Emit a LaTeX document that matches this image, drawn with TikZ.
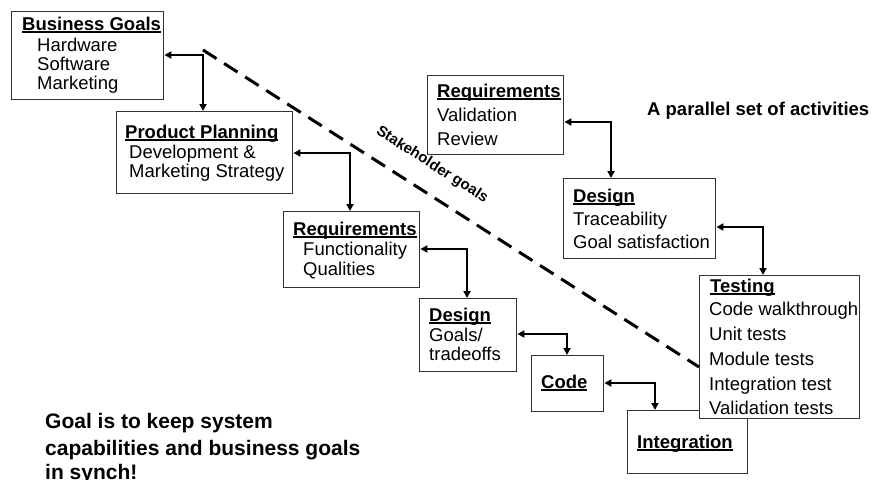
\documentclass[tikz,border=0pt]{standalone}
\usepackage{fontspec}
\setmainfont{Liberation Sans}
\usetikzlibrary{arrows.meta}
\newcommand\boxfont{\fontsize{18.5}{22}\selectfont}
\newcommand\bigfont{\fontsize{21}{26}\selectfont\bfseries}
\newcommand\ttlu[1]{\setbox0\hbox{\bfseries #1}\rlap{\rule[-3.2pt]{\wd0}{1.8pt}}\box0}
\tikzset{
  stagebox/.style={draw=black!80, line width=1.4pt, fill=white, inner sep=0pt, anchor=north west},
  txt/.style={anchor=base west, inner sep=0pt, font=\boxfont},
  note/.style={anchor=base west, inner sep=0pt, font=\bigfont},
  link/.style={line width=1.8pt, {Triangle[length=7pt,width=7pt]}-{Triangle[length=7pt,width=7pt]}},
  goalline/.style={line width=3pt, dash pattern=on 16pt off 9pt}
}
\begin{document}
\begin{tikzpicture}[x=1pt,y=-1pt]
\useasboundingbox (0,0) rectangle (872,479);
% boxes
\node[stagebox, minimum width=152pt, minimum height=88pt] (bg) at (11,11) {};
\node[stagebox, minimum width=176pt, minimum height=82pt] (pp) at (116,111) {};
\node[stagebox, minimum width=136pt, minimum height=76pt] (rq) at (283,211) {};
\node[stagebox, minimum width=97pt, minimum height=73pt] (ds) at (419,298) {};
\node[stagebox, minimum width=72pt, minimum height=56pt] (cd) at (531,355) {};
\node[stagebox, minimum width=120pt, minimum height=63pt] (ig) at (627,410) {};
\node[stagebox, minimum width=136pt, minimum height=79pt] (rq2) at (427,75) {};
\node[stagebox, minimum width=152pt, minimum height=80pt] (ds2) at (563,178) {};
\node[stagebox, minimum width=160pt, minimum height=143pt] (ts) at (699,275) {};
% texts
\node[txt] (bgt) at (22,30) {\ttlu{Business Goals}};
\node[txt] (bg1) at (37,51) {Hardware};
\node[txt] (bg2) at (37,70) {Software};
\node[txt] (bg3) at (37,89) {Marketing};
\node[txt] (ppt) at (125,138) {\ttlu{Product Planning}};
\node[txt] (pp1) at (129,158) {Development \&};
\node[txt] (pp2) at (129,177) {Marketing Strategy};
\node[txt] (rqt) at (293,235) {\ttlu{Requirements}};
\node[txt] (rq1) at (303,255) {Functionality};
\node[txt] (rq2t) at (303,275) {Qualities};
\node[txt] (dst) at (429,321) {\ttlu{Design}};
\node[txt] (ds1) at (429,341) {Goals/};
\node[txt] (ds2t) at (429,360) {tradeoffs};
\node[txt] (cdt) at (541,388) {\ttlu{Code}};
\node[txt] (igt) at (637,448) {\ttlu{Integration}};
\node[txt] (rqbt) at (437,97) {\ttlu{Requirements}};
\node[txt] (rqb1) at (437,121) {Validation};
\node[txt] (rqb2) at (437,145) {Review};
\node[txt] (dsbt) at (573,202) {\ttlu{Design}};
\node[txt] (dsb1) at (573,225) {Traceability};
\node[txt] (dsb2) at (573,248) {Goal satisfaction};
\node[txt] (tst) at (710,292) {\ttlu{Testing}};
\node[txt] (ts1) at (709,315) {Code walkthrough};
\node[txt] (ts2) at (709,340) {Unit tests};
\node[txt] (ts3) at (709,365) {Module tests};
\node[txt] (ts4) at (709,390) {Integration test};
\node[txt] (ts5) at (709,414) {Validation tests};
\node[txt, font=\boxfont\bfseries] (par) at (647,115) {A parallel set of activities};
\node[note] (g1) at (45,428) {Goal is to keep system};
\node[note] (g2) at (45,455) {capabilities and business goals};
\node[note] (g3) at (45,479) {in synch!};
% connectors
\coordinate (k1) at (203,55);
\coordinate (k2) at (350,153);
\coordinate (k3) at (467,249);
\coordinate (k4) at (567,334);
\coordinate (k5) at (655,383);
\coordinate (k6) at (611,122);
\coordinate (k7) at (763,227);
\draw[link] (k1 -| bg.east) -- (k1) -- (k1 |- pp.north);
\draw[link] (k2 -| pp.east) -- (k2) -- (k2 |- rq.north);
\draw[link] (k3 -| rq.east) -- (k3) -- (k3 |- ds.north);
\draw[link] (k4 -| ds.east) -- (k4) -- (k4 |- cd.north);
\draw[link] (k5 -| cd.east) -- (k5) -- (k5 |- ig.north);
\draw[link] (k6 -| rq2.east) -- (k6) -- (k6 |- ds2.north);
\draw[link] (k7 -| ds2.east) -- (k7) -- (k7 |- ts.north);
% stakeholder goals line
\coordinate (d1) at (203,50);
\coordinate (d2) at (699,367);
\draw[goalline] (d1) -- (d2);
\node[rotate=-32.6, font=\fontsize{15}{18}\selectfont\bfseries, inner sep=0pt] (sg) at (432,165) {Stakeholder goals};
\end{tikzpicture}
\end{document}
